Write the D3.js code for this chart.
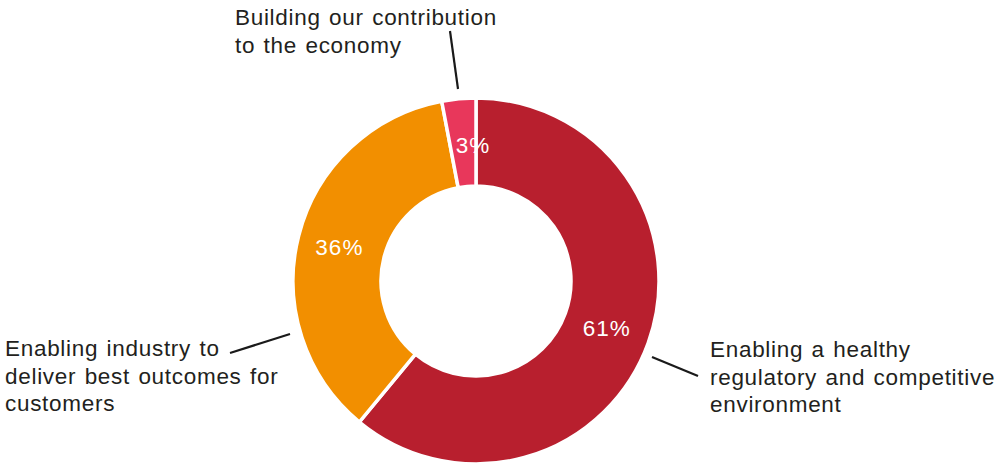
<!DOCTYPE html>
<html>
<head>
<meta charset="utf-8">
<script src="https://cdn.jsdelivr.net/npm/d3@7"></script>
<style>
  html, body { margin: 0; padding: 0; background: #fff; }
  svg { display: block; }
</style>
</head>
<body>
<svg id="chart" width="1002" height="467"></svg>
<script>
// Share of activity by strategic priority
const categories = [
  "Enabling a healthy regulatory and competitive environment",
  "Enabling industry to deliver best outcomes for customers",
  "Building our contribution to the economy"
];
const shares = [61, 36, 3];
const sliceColors = ["#B81F2E", "#F28F00", "#E8375B"];

// Wrapped category text shown beside the ring
const labelLines = [
  ["Enabling a healthy", "regulatory and competitive", "environment"],
  ["Enabling industry to", "deliver best outcomes for", "customers"],
  ["Building our contribution", "to the economy"]
];

const svg = d3.select("#chart");
const cx = 476, cy = 281;
const outerR = 183, innerR = 95;
const font = "'Liberation Sans', Arial, Helvetica, sans-serif";

const pie = d3.pie().sort(null).value(d => d)(shares);
const arc = d3.arc().innerRadius(innerR).outerRadius(outerR);

const g = svg.append("g").attr("transform", `translate(${cx},${cy})`);

g.selectAll("path.slice")
  .data(pie)
  .join("path")
  .attr("class", "slice")
  .attr("d", arc)
  .attr("fill", (d, i) => sliceColors[i])
  .attr("stroke", "#fff")
  .attr("stroke-width", 3.5)
  .attr("stroke-linejoin", "miter");

// Percentage labels at the middle of each ring segment
const labelNudge = [[0, 0], [-2, 0], [10, 2]];
g.selectAll("text.pct")
  .data(pie)
  .join("text")
  .attr("class", "pct")
  .attr("transform", (d, i) => {
    const c = arc.centroid(d);
    return `translate(${c[0] + labelNudge[i][0]},${c[1] + labelNudge[i][1]})`;
  })
  .attr("text-anchor", "middle")
  .attr("dy", "0.36em")
  .attr("fill", "#fff")
  .style("font-family", font)
  .style("font-size", "22.5px")
  .style("letter-spacing", "1px")
  .text(d => d.data + "%");

// Category labels with leader lines
const textColor = "#231F20";
const lineH = 27.5;

const labelSpots = [
  { x: 710, y: 357, line: [[652, 357], [698, 376]] },
  { x: 5, y: 356, line: [[230, 353], [290, 334]] },
  { x: 235, y: 25, line: [[450, 31], [458, 89]] }
];

labelSpots.forEach((s, i) => {
  const t = svg.append("text")
    .attr("x", s.x)
    .attr("y", s.y)
    .attr("fill", textColor)
    .style("font-family", font)
    .style("font-size", "22.5px")
    .style("letter-spacing", "0.7px")
    .style("word-spacing", "1.5px");
  labelLines[i].forEach((ln, k) => {
    t.append("tspan")
      .attr("x", s.x)
      .attr("dy", k === 0 ? 0 : lineH)
      .text(ln);
  });
  svg.append("line")
    .attr("x1", s.line[0][0]).attr("y1", s.line[0][1])
    .attr("x2", s.line[1][0]).attr("y2", s.line[1][1])
    .attr("stroke", "#1a1a1a")
    .attr("stroke-width", 2.2);
});
</script>
</body>
</html>
